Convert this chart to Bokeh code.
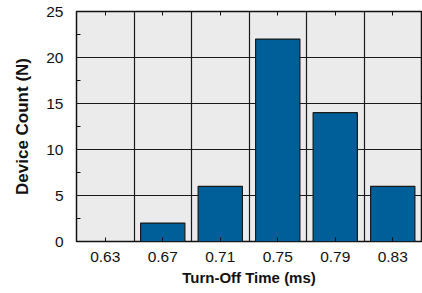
from bokeh.plotting import figure
from bokeh.models import FixedTicker, LinearAxis, Range1d, ColumnDataSource, CustomLabelingPolicy
from bokeh.embed import file_html
from bokeh.resources import INLINE

categories = ["0.63", "0.67", "0.71", "0.75", "0.79", "0.83"]
counts = [0, 2, 6, 22, 14, 6]
y_ticks = [0, 5, 10, 15, 20, 25]
y_minor = [2.5, 7.5, 12.5, 17.5, 22.5]

xs = list(range(len(categories)))
src = ColumnDataSource(dict(x=xs, top=counts))

p = figure(width=422, height=293, output_backend="svg", toolbar_location=None,
           x_range=Range1d(-0.5, len(categories) - 0.5), y_range=Range1d(0, 25),
           min_border_left=76, min_border_right=1, min_border_top=11, min_border_bottom=52)
p.background_fill_color = "#ebebeb"
p.border_fill_color = "white"
p.outline_line_color = "#111111"
p.outline_line_width = 1.5

p.vbar(x="x", top="top", width=0.77, bottom=0, source=src,
       fill_color="#005f99", line_color="#1a1a1a", line_width=1.2)

p.xgrid.ticker = FixedTicker(ticks=[i + 0.5 for i in range(len(categories) - 1)])
p.xgrid.grid_line_color = "#1a1a1a"
p.xgrid.grid_line_width = 1.2
p.ygrid.ticker = FixedTicker(ticks=y_ticks)
p.ygrid.grid_line_color = "#1a1a1a"
p.ygrid.grid_line_width = 1.2
p.xgrid.level = "image"
p.ygrid.level = "image"

font = "Liberation Sans"

xa = p.xaxis[0]
xa.ticker = FixedTicker(ticks=xs)
xa.major_label_overrides = {i: c for i, c in enumerate(categories)}
xa.major_tick_in = 4
xa.major_tick_out = 0
xa.major_tick_line_color = "#111111"
xa.minor_tick_line_color = None
xa.axis_line_color = None
xa.major_label_text_font = font
xa.major_label_text_font_size = "15.5px"
xa.major_label_text_color = "#111111"
xa.major_label_standoff = 10
xa.axis_label = "Turn-Off Time (ms)"
xa.axis_label_text_font = font
xa.axis_label_text_font_style = "bold"
xa.axis_label_text_font_size = "15px"
xa.axis_label_text_color = "#111111"
xa.axis_label_standoff = 4

ya = p.yaxis[0]
ya.ticker = FixedTicker(ticks=y_ticks, minor_ticks=y_minor)
ya.major_tick_in = 0
ya.major_tick_out = 0
ya.minor_tick_in = 4
ya.minor_tick_out = 0
ya.minor_tick_line_color = "#111111"
ya.axis_line_color = None
ya.major_label_text_font = font
ya.major_label_text_font_size = "15.5px"
ya.major_label_text_color = "#111111"
ya.major_label_standoff = 13
ya.axis_label = "Device Count (N)"
ya.axis_label_text_font = font
ya.axis_label_text_font_style = "bold"
ya.axis_label_text_font_size = "17px"
ya.axis_label_text_color = "#111111"
ya.axis_label_standoff = 11

hide_labels = CustomLabelingPolicy(code="""
for (const i of indices) { indices.unset(i) }
return indices
""")
top = LinearAxis(ticker=FixedTicker(ticks=xs), major_label_text_font_size="1px",
                 major_label_policy=hide_labels,
                 major_tick_in=4, major_tick_out=0, minor_tick_line_color=None,
                 major_tick_line_color="#111111",
                 axis_line_color=None, major_label_standoff=0)
p.add_layout(top, "above")

open("out.html", "w").write(file_html(p, INLINE))
